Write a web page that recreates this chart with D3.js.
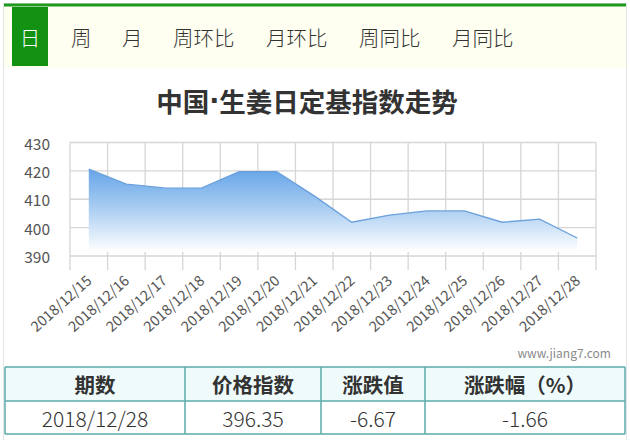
<!DOCTYPE html>
<html><head><meta charset="utf-8">
<script src="https://cdn.jsdelivr.net/npm/d3@7/dist/d3.min.js"></script>
<style>
html,body{margin:0;padding:0;background:#fff;}
svg{display:block;font-family:"Noto Sans CJK SC","Microsoft YaHei",sans-serif;}
</style></head>
<body><svg id="c" width="630" height="440"></svg>
<script>
const tabs = ["日","周","月","周环比","月环比","周同比","月同比"];
const tabX = [30, 71, 122, 173, 266, 359, 452];
const titleParts = ["中国", "·", "生姜日定基指数走势"];
const dates = ["2018/12/15","2018/12/16","2018/12/17","2018/12/18","2018/12/19","2018/12/20","2018/12/21","2018/12/22","2018/12/23","2018/12/24","2018/12/25","2018/12/26","2018/12/27","2018/12/28"];
const values = [420.6, 415.3, 414.0, 413.9, 419.7, 419.7, 411.2, 401.9, 404.4, 405.9, 405.9, 401.9, 403.02, 396.35];
const yTicks = [390, 400, 410, 420, 430];
const tableHead = ["期数","价格指数","涨跌值","涨跌幅（%）"];
const tableRow = ["2018/12/28","396.35","-6.67","-1.66"];
const watermark = "www.jiang7.com";

const svg = d3.select("#c");

// outer frame
svg.append("rect").attr("x",3.5).attr("y",3.5).attr("width",623).attr("height",440)
  .attr("fill","#fff").attr("stroke","#e4e4e4");

// tab bar
svg.append("rect").attr("x",4).attr("y",6).attr("width",622).attr("height",62).attr("fill","#fefff0");
svg.append("rect").attr("x",4).attr("y",3.5).attr("width",622).attr("height",3).attr("fill","#1e9a1e");
svg.append("rect").attr("x",12).attr("y",7).attr("width",36).attr("height",59).attr("fill","#129112");
svg.selectAll("text.tab").data(tabs).enter().append("text")
  .attr("class","tab")
  .attr("x",(d,i)=>tabX[i]).attr("y",37)
  .attr("text-anchor",(d,i)=> i===0 ? "middle" : "start")
  .attr("dominant-baseline","central")
  .attr("font-size",20.5).attr("font-weight",300)
  .attr("fill",(d,i)=> i===0 ? "#ffffff" : "#333333")
  .text(d=>d);

// title
const tt = svg.append("text").attr("x",307).attr("y",100).attr("text-anchor","middle")
  .attr("dominant-baseline","central").attr("font-size",26.5).attr("font-weight",700)
  .attr("fill","#333");
titleParts.forEach((p,i)=>{
  const ts = tt.append("tspan").text(p);
  if (i===1) ts.attr("font-family","DejaVu Sans");
});

// scales
const x = d3.scaleBand().domain(dates).range([70,596]).padding(0);
const y = d3.scaleLinear().domain([390,430]).range([256,142.5]);
const cx = d => x(d) + x.bandwidth()/2;

// grid
const g = svg.append("g");
g.selectAll("line.h").data(yTicks).enter().append("line")
  .attr("x1",70).attr("x2",596).attr("y1",d=>y(d)).attr("y2",d=>y(d))
  .attr("stroke","#d6d6d6").attr("stroke-width",1.3);
const bounds = dates.map(d=>x(d)).concat([596]);
g.selectAll("line.v").data(bounds).enter().append("line")
  .attr("x1",d=>d).attr("x2",d=>d).attr("y1",142.5).attr("y2",270)
  .attr("stroke","#d6d6d6").attr("stroke-width",1.3);

// gradient area
const defs = svg.append("defs");
const grad = defs.append("linearGradient").attr("id","ag").attr("x1",0).attr("y1",0).attr("x2",0).attr("y2",1);
grad.append("stop").attr("offset","0%").attr("stop-color","#66a5e8");
grad.append("stop").attr("offset","45%").attr("stop-color","#a6cbf1");
grad.append("stop").attr("offset","100%").attr("stop-color","#ffffff");

const pts = dates.map((d,i)=>({d, v: values[i]}));
const area = d3.area().x(p=>cx(p.d)).y0(y(390)-4).y1(p=>y(p.v));
svg.append("path").datum(pts).attr("d",area).attr("fill","url(#ag)");
const line = d3.line().x(p=>cx(p.d)).y(p=>y(p.v));
svg.append("path").datum(pts).attr("d",line).attr("fill","none")
  .attr("stroke","#6aa0dc").attr("stroke-width",1.3);

// y labels
svg.selectAll("text.yl").data(yTicks).enter().append("text")
  .attr("x",50).attr("y",d=>y(d)).attr("text-anchor","end").attr("dominant-baseline","central")
  .attr("font-size",15.5).attr("font-weight",400).attr("fill","#555").text(d=>d);

// x labels
svg.selectAll("text.xl").data(dates).enter().append("text")
  .attr("transform",d=>`translate(${cx(d)+4},${282}) rotate(-42)`)
  .attr("text-anchor","end").attr("font-size",14.5).attr("font-weight",400)
  .attr("fill","#555").text(d=>d);

// watermark
svg.append("text").attr("x",611).attr("y",358).attr("text-anchor","end")
  .attr("font-size",12).attr("fill","#8a8a8a").text(watermark);

// table
const cols = [5, 185, 321, 425, 625];
const rows = [367, 401, 434];
svg.append("rect").attr("x",5).attr("y",367).attr("width",620).attr("height",34).attr("fill","#effbfb");
const tg = svg.append("g").attr("stroke","#5aabab").attr("stroke-width",1.5);
rows.forEach(r=>tg.append("line").attr("x1",cols[0]).attr("x2",cols[4]).attr("y1",r).attr("y2",r));
cols.forEach(c=>tg.append("line").attr("x1",c).attr("x2",c).attr("y1",rows[0]).attr("y2",rows[2]));
svg.selectAll("text.th").data(tableHead).enter().append("text")
  .attr("x",(d,i)=>(cols[i]+cols[i+1])/2).attr("y",384)
  .attr("text-anchor","middle").attr("dominant-baseline","central")
  .attr("font-size",20.5).attr("font-weight",700).attr("fill","#333").text(d=>d);
svg.selectAll("text.td").data(tableRow).enter().append("text")
  .attr("x",(d,i)=>(cols[i]+cols[i+1])/2).attr("y",417.5)
  .attr("text-anchor","middle").attr("dominant-baseline","central")
  .attr("font-size",21).attr("font-weight",300).attr("fill","#333").text(d=>d);
</script></body></html>
